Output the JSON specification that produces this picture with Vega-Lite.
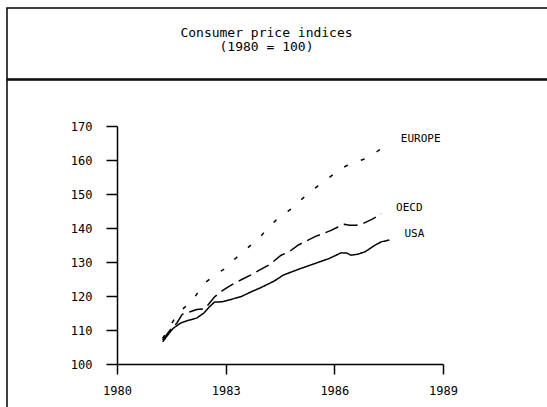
{
  "$schema": "https://vega.github.io/schema/vega-lite/v6.json",
  "padding": {"left": 6, "top": 7, "right": -2, "bottom": -2},
  "spacing": -2,
  "background": "white",
  "config": {
    "view": {"stroke": "black", "strokeWidth": 1.5},
    "font": "DejaVu Sans Mono"
  },
  "datasets": {
    "cpi": [
      {"series": "USA", "year": 1981.26, "value": 106.5},
      {"series": "USA", "year": 1981.4, "value": 108.5},
      {"series": "USA", "year": 1981.55, "value": 110.5},
      {"series": "USA", "year": 1981.75, "value": 112.0},
      {"series": "USA", "year": 1981.95, "value": 112.8},
      {"series": "USA", "year": 1982.2, "value": 113.5},
      {"series": "USA", "year": 1982.4, "value": 115.0},
      {"series": "USA", "year": 1982.55, "value": 116.8},
      {"series": "USA", "year": 1982.69, "value": 118.2},
      {"series": "USA", "year": 1982.9, "value": 118.3},
      {"series": "USA", "year": 1983.15, "value": 119.0},
      {"series": "USA", "year": 1983.42, "value": 119.8},
      {"series": "USA", "year": 1983.7, "value": 121.2},
      {"series": "USA", "year": 1984.0, "value": 122.6},
      {"series": "USA", "year": 1984.34, "value": 124.4},
      {"series": "USA", "year": 1984.6, "value": 126.2},
      {"series": "USA", "year": 1985.0, "value": 127.8},
      {"series": "USA", "year": 1985.45, "value": 129.5},
      {"series": "USA", "year": 1985.85, "value": 131.0},
      {"series": "USA", "year": 1986.19, "value": 132.7},
      {"series": "USA", "year": 1986.35, "value": 132.6},
      {"series": "USA", "year": 1986.46, "value": 132.0},
      {"series": "USA", "year": 1986.65, "value": 132.3},
      {"series": "USA", "year": 1986.85, "value": 133.0},
      {"series": "USA", "year": 1987.1, "value": 134.8},
      {"series": "USA", "year": 1987.29, "value": 135.9},
      {"series": "USA", "year": 1987.52, "value": 136.5},
      {"series": "OECD", "year": 1981.26, "value": 107.0},
      {"series": "OECD", "year": 1981.45, "value": 109.8},
      {"series": "OECD", "year": 1981.65, "value": 112.0},
      {"series": "OECD", "year": 1981.8, "value": 114.6},
      {"series": "OECD", "year": 1982.0, "value": 115.3},
      {"series": "OECD", "year": 1982.2, "value": 116.0},
      {"series": "OECD", "year": 1982.4, "value": 116.2},
      {"series": "OECD", "year": 1982.5, "value": 117.2},
      {"series": "OECD", "year": 1982.69, "value": 119.7},
      {"series": "OECD", "year": 1982.9, "value": 121.5},
      {"series": "OECD", "year": 1983.06, "value": 122.6},
      {"series": "OECD", "year": 1983.25, "value": 123.8},
      {"series": "OECD", "year": 1983.47, "value": 125.0},
      {"series": "OECD", "year": 1983.7, "value": 126.2},
      {"series": "OECD", "year": 1983.93, "value": 127.6},
      {"series": "OECD", "year": 1984.21, "value": 129.2},
      {"series": "OECD", "year": 1984.53, "value": 132.0},
      {"series": "OECD", "year": 1984.75, "value": 133.0},
      {"series": "OECD", "year": 1984.99, "value": 134.9},
      {"series": "OECD", "year": 1985.25, "value": 136.3},
      {"series": "OECD", "year": 1985.45, "value": 137.4},
      {"series": "OECD", "year": 1985.7, "value": 138.4},
      {"series": "OECD", "year": 1985.91, "value": 139.3},
      {"series": "OECD", "year": 1986.1, "value": 140.3},
      {"series": "OECD", "year": 1986.28, "value": 141.1},
      {"series": "OECD", "year": 1986.42, "value": 140.8},
      {"series": "OECD", "year": 1986.6, "value": 140.8},
      {"series": "OECD", "year": 1986.79, "value": 141.3},
      {"series": "OECD", "year": 1987.05, "value": 142.6},
      {"series": "OECD", "year": 1987.29, "value": 144.2},
      {"series": "EUROPE", "year": 1981.26, "value": 107.5},
      {"series": "EUROPE", "year": 1981.4, "value": 110.0},
      {"series": "EUROPE", "year": 1981.63, "value": 114.0},
      {"series": "EUROPE", "year": 1981.85, "value": 116.5},
      {"series": "EUROPE", "year": 1982.06, "value": 118.4},
      {"series": "EUROPE", "year": 1982.25, "value": 121.3},
      {"series": "EUROPE", "year": 1982.43, "value": 123.9},
      {"series": "EUROPE", "year": 1982.7, "value": 126.1},
      {"series": "EUROPE", "year": 1982.98, "value": 128.1},
      {"series": "EUROPE", "year": 1983.2, "value": 130.4},
      {"series": "EUROPE", "year": 1983.46, "value": 132.8},
      {"series": "EUROPE", "year": 1983.7, "value": 135.0},
      {"series": "EUROPE", "year": 1983.93, "value": 137.1},
      {"series": "EUROPE", "year": 1984.15, "value": 139.8},
      {"series": "EUROPE", "year": 1984.39, "value": 142.3},
      {"series": "EUROPE", "year": 1984.62, "value": 144.2},
      {"series": "EUROPE", "year": 1984.85, "value": 145.9},
      {"series": "EUROPE", "year": 1985.08, "value": 148.3},
      {"series": "EUROPE", "year": 1985.3, "value": 150.3},
      {"series": "EUROPE", "year": 1985.55, "value": 152.4},
      {"series": "EUROPE", "year": 1985.79, "value": 154.3},
      {"series": "EUROPE", "year": 1986.05, "value": 156.4},
      {"series": "EUROPE", "year": 1986.33, "value": 158.3},
      {"series": "EUROPE", "year": 1986.62, "value": 159.5},
      {"series": "EUROPE", "year": 1986.94, "value": 160.7},
      {"series": "EUROPE", "year": 1987.18, "value": 162.5},
      {"series": "EUROPE", "year": 1987.42, "value": 164.3}
    ]
  },
  "vconcat": [
    {
      "width": 543,
      "height": 71,
      "data": {"values": [{"a": 0, "b": 0}]},
      "mark": {"type": "point", "opacity": 0, "size": 0, "strokeWidth": 0},
      "encoding": {
        "x": {"field": "a", "type": "quantitative", "scale": {"domain": [-1, 1]}, "axis": null},
        "y": {"field": "b", "type": "quantitative", "scale": {"domain": [-1, 1]}, "axis": null}
      },
      "title": {
        "text": ["Consumer price indices", "(1980 = 100)"],
        "orient": "bottom",
        "baseline": "top",
        "anchor": "middle",
        "offset": -52,
        "dx": -12,
        "font": "DejaVu Sans Mono",
        "fontSize": 13,
        "fontWeight": "normal",
        "lineHeight": 14,
        "color": "black"
      }
    },
    {
      "width": 543,
      "height": 333,
      "data": {"name": "cpi"},
      "layer": [
        {
          "mark": {"type": "line", "strokeWidth": 1.5, "strokeCap": "butt"},
          "encoding": {
            "x": {
              "field": "year",
              "type": "quantitative",
              "scale": {"domain": [1980, 1989], "range": [110, 436], "zero": false, "nice": false},
              "axis": {
                "orient": "bottom",
                "offset": -49,
                "values": [1980, 1983, 1986, 1989],
                "format": "d",
                "title": null,
                "grid": false,
                "tickSize": 10,
                "labelPadding": 11,
                "labelFont": "DejaVu Sans Mono",
                "labelFontSize": 12,
                "labelColor": "black",
                "tickColor": "black",
                "domainColor": "black",
                "tickWidth": 1.5,
                "domainWidth": 1.5,
                "labelFlush": false,
                "labelOverlap": false,
                "labelBound": false
              }
            },
            "y": {
              "field": "value",
              "type": "quantitative",
              "scale": {"domain": [100, 170], "range": [284, 46], "zero": false, "nice": false},
              "axis": {
                "orient": "left",
                "offset": -110,
                "values": [100, 110, 120, 130, 140, 150, 160, 170],
                "title": null,
                "grid": false,
                "tickSize": 11,
                "labelPadding": 14,
                "labelFont": "DejaVu Sans Mono",
                "labelFontSize": 12,
                "labelColor": "black",
                "tickColor": "black",
                "domainColor": "black",
                "tickWidth": 1.5,
                "domainWidth": 1.5,
                "labelFlush": false,
                "labelOverlap": false,
                "labelBound": false
              }
            },
            "color": {
              "field": "series",
              "type": "nominal",
              "scale": {"domain": ["USA", "OECD", "EUROPE"], "range": ["black", "black", "black"]},
              "legend": null
            },
            "strokeDash": {
              "field": "series",
              "type": "nominal",
              "scale": {"domain": ["USA", "OECD", "EUROPE"], "range": [[1, 0], [14, 6], [4, 14]]},
              "legend": null
            }
          }
        },
        {
          "transform": [
            {"joinaggregate": [{"op": "max", "field": "year", "as": "maxyear"}], "groupby": ["series"]},
            {"filter": "datum.year == datum.maxyear"}
          ],
          "mark": {
            "type": "text",
            "align": "left",
            "baseline": "middle",
            "dx": 15,
            "dy": -6,
            "font": "DejaVu Sans Mono",
            "fontSize": 11,
            "color": "black"
          },
          "encoding": {
            "x": {"field": "year", "type": "quantitative"},
            "y": {"field": "value", "type": "quantitative"},
            "text": {"field": "series"}
          }
        }
      ]
    }
  ]
}
